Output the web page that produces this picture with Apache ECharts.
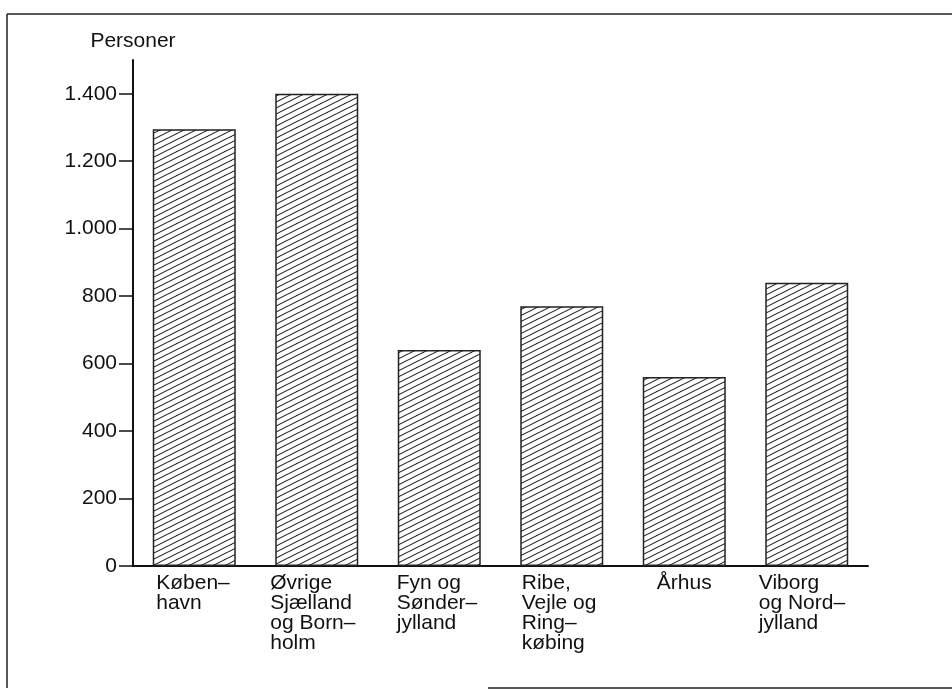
<!DOCTYPE html>
<html>
<head>
<meta charset="utf-8">
<script src="https://cdn.jsdelivr.net/npm/echarts@6/dist/echarts.min.js"></script>
<style>
html,body{margin:0;padding:0;background:#fff;}
#chart{width:952px;height:691px;}
</style>
</head>
<body>
<div id="chart"></div>
<script>
// ---- data ----
const categories = [
  'Køben–\nhavn',
  'Øvrige\nSjælland\nog Born–\nholm',
  'Fyn og\nSønder–\njylland',
  'Ribe,\nVejle og\nRing–\nkøbing',
  'Århus',
  'Viborg\nog Nord–\njylland'
];
const values = [1295, 1400, 640, 770, 560, 840];
const yTicks = [0, 200, 400, 600, 800, 1000, 1200, 1400];
const yName = 'Personer';

// ---- styling ----
const FONT = "'Liberation Sans', Arial, sans-serif";
const labelBoxWidths = [76, 93, 85, 80, null, 96];

function hatchPattern() {
  const c = document.createElement('canvas');
  c.width = 12; c.height = 6;
  const g = c.getContext('2d');
  g.fillStyle = '#fff';
  g.fillRect(0, 0, 12, 6);
  g.strokeStyle = '#222';
  g.lineWidth = 1.1;
  for (const dy of [-6, 0, 6]) {
    g.beginPath();
    g.moveTo(-1, 6 + dy + 0.5);
    g.lineTo(13, 0 + dy - 0.5);
    g.stroke();
  }
  return c;
}

const rich = {};
labelBoxWidths.forEach((w, i) => {
  rich['c' + i] = w
    ? { width: w, align: 'left', fontSize: 21, lineHeight: 20, fontFamily: FONT, color: '#111' }
    : { align: 'center', fontSize: 21, lineHeight: 20, fontFamily: FONT, color: '#111' };
});

function fmtThousands(v) {
  return String(v).replace(/\B(?=(\d{3})+(?!\d))/g, '.');
}

const chart = echarts.init(document.getElementById('chart'), null, { renderer: 'canvas' });
chart.setOption({
  backgroundColor: '#fff',
  animation: false,
  grid: { left: 133, top: 60, right: 84, bottom: 125, containLabel: false },
  xAxis: {
    type: 'category',
    data: categories,
    axisLine: { lineStyle: { color: '#111', width: 2 } },
    axisTick: { show: false },
    axisLabel: {
      margin: 7,
      interval: 0,
      align: 'center',
      verticalAlign: 'top',
      formatter: (value, index) => value.split('\n').map(l => '{c' + index + '|' + l + '}').join('\n'),
      rich: rich
    }
  },
  yAxis: {
    type: 'value',
    min: 0,
    max: 1500,
    name: yName,
    nameLocation: 'end',
    nameGap: 8,
    nameTextStyle: { fontSize: 21, fontFamily: FONT, color: '#111', align: 'center' },
    axisLine: { show: true, lineStyle: { color: '#111', width: 2 } },
    axisTick: { show: true, length: 14, lineStyle: { color: '#111', width: 1.5 }, customValues: yTicks },
    axisLabel: {
      margin: 16,
      fontSize: 21,
      fontFamily: FONT,
      color: '#111',
      customValues: yTicks,
      formatter: v => fmtThousands(v)
    },
    splitLine: { show: false }
  },
  series: [{
    type: 'bar',
    data: values,
    barWidth: 83,
    itemStyle: {
      color: { image: hatchPattern(), repeat: 'repeat' },
      borderColor: '#222',
      borderWidth: 1.5
    }
  }],
  graphic: [
    { type: 'line', shape: { x1: 7, y1: 14, x2: 7, y2: 688 }, style: { stroke: '#222', lineWidth: 1.5 } },
    { type: 'line', shape: { x1: 7, y1: 14, x2: 952, y2: 14 }, style: { stroke: '#222', lineWidth: 1.5 } },
    { type: 'line', shape: { x1: 488, y1: 688, x2: 952, y2: 688 }, style: { stroke: '#222', lineWidth: 1.5 } }
  ]
});
</script>
</body>
</html>
